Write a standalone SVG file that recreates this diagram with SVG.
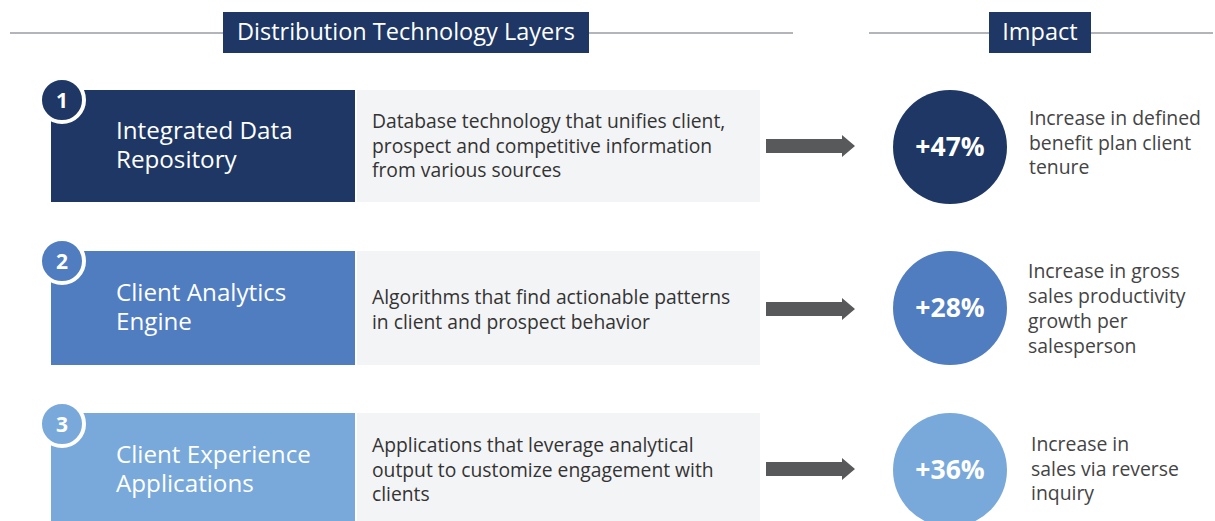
<svg xmlns="http://www.w3.org/2000/svg" width="1215" height="521" viewBox="0 0 1215 521">
<style>
.hline{stroke:#9a9ca0;stroke-width:1.5}
.hbox{fill:#1e3765}
.htxt{font-family:"Open Sans","Liberation Sans",sans-serif;font-size:23.5px;fill:#ffffff}
.ttl{font-family:"Open Sans","Liberation Sans",sans-serif;font-size:24.2px;fill:#ffffff}
.desc{font-family:"Open Sans","Liberation Sans",sans-serif;font-size:19.3px;fill:#333333}
.imp{font-family:"Open Sans","Liberation Sans",sans-serif;font-size:19.4px;fill:#444444}
.pct{font-family:"Open Sans","Liberation Sans",sans-serif;font-size:26.5px;font-weight:bold;fill:#ffffff}
.num{font-family:"Open Sans","Liberation Sans",sans-serif;font-size:21px;font-weight:bold;fill:#ffffff}
.gbox{fill:#f3f4f6}
.badge{stroke:#ffffff;stroke-width:4}
.arrow{fill:#58595b}
</style>
<defs>
<path id="arr" d="M0,-7 H76 V-11 L89,0 L76,11 V7 H0 Z"/>
</defs>
<g id="header-layers">
<line class="hline" x1="10" y1="33" x2="793" y2="33"/>
<rect class="hbox" x="223" y="12" width="366" height="41"/>
<text class="htxt" x="406" y="40" text-anchor="middle">Distribution Technology Layers</text>
</g>
<g id="header-impact">
<line class="hline" x1="869" y1="33" x2="1213" y2="33"/>
<rect class="hbox" x="989" y="12" width="102" height="41"/>
<text class="htxt" x="1040" y="40" text-anchor="middle">Impact</text>
</g>
<g id="layer1">
<rect x="51" y="90" width="304" height="112" fill="#1e3765"/>
<rect class="gbox" x="357" y="90" width="403" height="112"/>
<circle class="badge" cx="62" cy="100" r="22" fill="#1e3765"/>
<text class="num" x="62" y="108" text-anchor="middle">1</text>
<text class="ttl" x="116" y="139">Integrated Data</text>
<text class="ttl" x="116" y="168">Repository</text>
<text class="desc" x="372" y="128">Database technology that unifies client,</text>
<text class="desc" x="372" y="153">prospect and competitive information</text>
<text class="desc" x="372" y="177">from various sources</text>
</g>
<g id="impact1">
<circle cx="950" cy="147" r="57" fill="#1e3765"/>
<text class="pct" x="950" y="156" text-anchor="middle">+47%</text>
<text class="imp" x="1029" y="125">Increase in defined</text>
<text class="imp" x="1029" y="150">benefit plan client</text>
<text class="imp" x="1029" y="174">tenure</text>
</g>
<g id="layer2">
<rect x="51" y="251" width="304" height="114" fill="#507cc0"/>
<rect class="gbox" x="357" y="251" width="403" height="114"/>
<circle class="badge" cx="62" cy="261" r="22" fill="#507cc0"/>
<text class="num" x="62" y="269" text-anchor="middle">2</text>
<text class="ttl" x="116" y="301">Client Analytics</text>
<text class="ttl" x="116" y="330">Engine</text>
<text class="desc" x="372" y="304">Algorithms that find actionable patterns</text>
<text class="desc" x="372" y="329">in client and prospect behavior</text>
</g>
<g id="impact2">
<circle cx="950" cy="308" r="57" fill="#507cc0"/>
<text class="pct" x="950" y="317" text-anchor="middle">+28%</text>
<text class="imp" x="1028" y="278">Increase in gross</text>
<text class="imp" x="1028" y="303">sales productivity</text>
<text class="imp" x="1028" y="328">growth per</text>
<text class="imp" x="1028" y="353">salesperson</text>
</g>
<g id="layer3">
<rect x="51" y="413" width="304" height="108" fill="#79a9da"/>
<rect class="gbox" x="357" y="413" width="403" height="108"/>
<circle class="badge" cx="62" cy="424" r="22" fill="#79a9da"/>
<text class="num" x="62" y="432" text-anchor="middle">3</text>
<text class="ttl" x="116" y="463">Client Experience</text>
<text class="ttl" x="116" y="492">Applications</text>
<text class="desc" x="372" y="452">Applications that leverage analytical</text>
<text class="desc" x="372" y="477">output to customize engagement with</text>
<text class="desc" x="372" y="501">clients</text>
</g>
<g id="impact3">
<circle cx="950" cy="470" r="57" fill="#79a9da"/>
<text class="pct" x="950" y="479" text-anchor="middle">+36%</text>
<text class="imp" x="1031" y="451">Increase in</text>
<text class="imp" x="1031" y="476">sales via reverse</text>
<text class="imp" x="1031" y="500">inquiry</text>
</g>
<g id="connectors">
<use href="#arr" class="arrow" x="766" y="146"/>
<use href="#arr" class="arrow" x="766" y="309"/>
<use href="#arr" class="arrow" x="766" y="469"/>
</g>
</svg>
